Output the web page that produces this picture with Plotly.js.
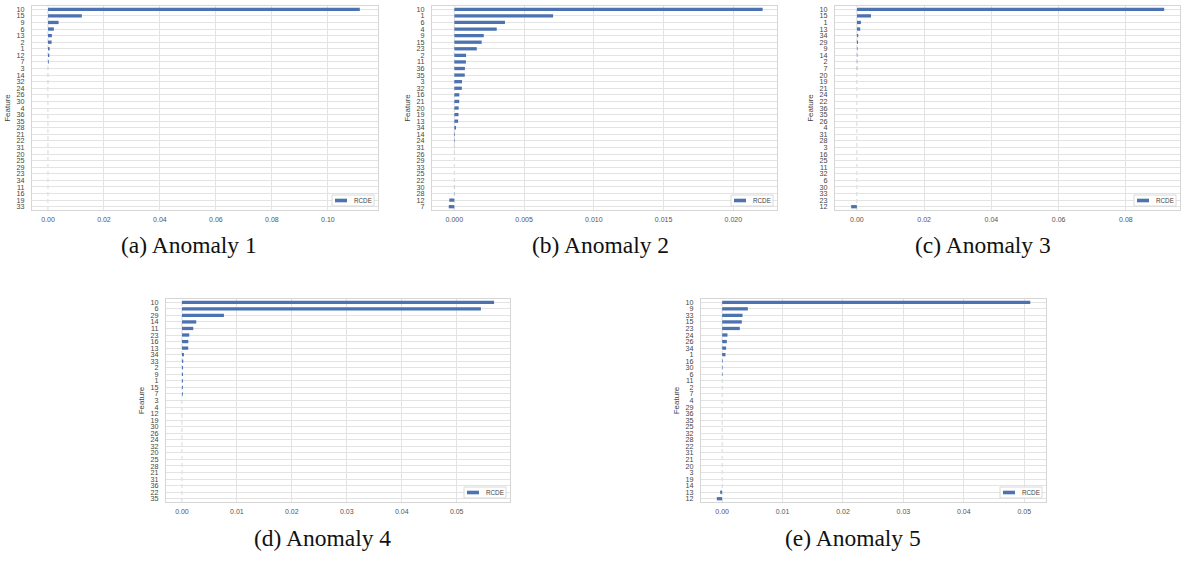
<!DOCTYPE html>
<html>
<head>
<meta charset="utf-8">
<script src="https://cdn.plot.ly/plotly-3.0.1.min.js"></script>
<style>html,body{margin:0;padding:0;background:#fff}#chart{width:1181px;height:561px}</style>
</head>
<body>
<div id="chart"></div>
<script>
// ---- data ----
const featuresA = ["10","15","9","6","13","2","1","12","7","3","14","32","24","26","30","4","36","35","28","21","22","31","20","25","29","23","34","11","16","19","33"];
const rcdeA = [0.1114,0.0121,0.0038,0.0021,0.0014,0.0013,0.0006,0.0005,0.0003,0.00004,0.00003,0.00003,0.00002,0.00002,0.00002,0.00001,0.00001,0.00001,0.00001,0.000005,0.000005,0.000003,0.000002,0.000001,0,0,0,0,-0.000001,-0.000002,-0.000003];

const featuresB = ["10","1","6","4","9","15","23","2","11","36","35","3","32","16","21","20","19","13","34","14","24","31","26","29","33","25","22","30","28","12","7"];
const rcdeB = [0.0221,0.00708,0.00363,0.00304,0.00211,0.00196,0.00161,0.00084,0.00083,0.00076,0.00075,0.00055,0.00054,0.00036,0.00035,0.00031,0.0003,0.00027,0.00012,0.00005,0.00004,0.00001,0.000005,0,0,0,-0.000005,-0.00001,-0.00002,-0.00036,-0.0004];

const featuresC = ["10","15","1","13","34","29","9","14","2","7","20","19","21","24","22","36","35","26","4","31","28","3","16","25","11","32","6","30","33","23","12"];
const rcdeC = [0.0914,0.0042,0.0012,0.0010,0.0004,0.00035,0.0002,0.00015,0.00012,0.0001,0.00002,0.00002,0.00001,0.00001,0.00001,0.000005,0.000005,0.000003,0.000002,0.000001,0,0,0,0,0,-0.000001,-0.000002,-0.000003,-0.000005,-0.00001,-0.0017];

const featuresD = ["10","6","29","14","11","23","16","13","34","33","2","9","1","15","7","3","4","12","19","30","26","24","32","20","25","28","21","31","36","22","35"];
const rcdeD = [0.0568,0.0544,0.00764,0.0026,0.00206,0.00133,0.00116,0.00114,0.00036,0.00024,0.0002,0.00019,0.00018,0.00017,0.00016,0.00001,0.000008,0.000005,0.000004,0.000003,0.000002,0.000001,0,0,0,0,0,-0.000001,-0.000002,-0.000005,-0.00001];

const featuresE = ["10","9","33","15","23","24","26","34","1","16","30","6","11","2","7","4","29","36","35","25","32","28","22","31","21","20","3","19","14","13","12"];
const rcdeE = [0.0510,0.00425,0.00337,0.00326,0.00292,0.00088,0.00077,0.00066,0.00055,0.0001,0.00009,0.00008,0.00001,0.000008,0.000006,0.000005,0.000003,0.000002,0.000001,0,0,0,0,0,0,-0.000001,-0.000002,-0.000004,-0.00001,-0.00033,-0.00088];

const seriesName = "RCDE";
const captions = ["(a) Anomaly 1","(b) Anomaly 2","(c) Anomaly 3","(d) Anomaly 4","(e) Anomaly 5"];
const xTickVals = [
  [0,0.02,0.04,0.06,0.08,0.10],
  [0,0.005,0.010,0.015,0.020],
  [0,0.02,0.04,0.06,0.08],
  [0,0.01,0.02,0.03,0.04,0.05],
  [0,0.01,0.02,0.03,0.04,0.05]
];
const xTickText = [
  ["0.00","0.02","0.04","0.06","0.08","0.10"],
  ["0.000","0.005","0.010","0.015","0.020"],
  ["0.00","0.02","0.04","0.06","0.08"],
  ["0.00","0.01","0.02","0.03","0.04","0.05"],
  ["0.00","0.01","0.02","0.03","0.04","0.05"]
];

// ---- layout geometry (pixels) ----
const W = 1181, H = 561;
const panels = [
  {feat: featuresA, vals: rcdeA, frame: [32, 378, 6, 210],   range: [-0.0057, 0.1179], cap: [189, 245]},
  {feat: featuresB, vals: rcdeB, frame: [432, 777, 6, 210],  range: [-0.0016, 0.02313], cap: [600, 245]},
  {feat: featuresC, vals: rcdeC, frame: [835, 1180, 6, 210], range: [-0.0065, 0.0961], cap: [983, 245]},
  {feat: featuresD, vals: rcdeD, frame: [166, 510, 299, 502], range: [-0.0029, 0.0597], cap: [322, 538]},
  {feat: featuresE, vals: rcdeE, frame: [701, 1046, 299, 502], range: [-0.0035, 0.0536], cap: [853, 538]}
];

const BLUE = "#4C72B0";
const GRID = "#e3e3e3";
const FRAME = "#d6d6d6";
const TICKC = "#444444";
const SANS = "Liberation Sans, Arial, sans-serif";

const data = [];
const layout = {
  width: W, height: H,
  margin: {l: 0, r: 0, t: 0, b: 0},
  paper_bgcolor: "#ffffff",
  plot_bgcolor: "#ffffff",
  showlegend: false,
  bargap: 0.5,
  font: {family: SANS, size: 7, color: TICKC},
  shapes: [],
  annotations: []
};

panels.forEach((p, i) => {
  const n = i === 0 ? "" : String(i + 1);
  const xa = "x" + n, ya = "y" + n;
  data.push({
    type: "bar", orientation: "h",
    x: p.vals, y: p.feat,
    xaxis: xa, yaxis: ya,
    name: seriesName,
    marker: {color: BLUE, line: {width: 0}},
    hoverinfo: "x+y"
  });
  const [l, r, t, b] = p.frame;
  const gridVals = xTickVals[i].filter(v => v !== 0);
  layout["xaxis" + n] = {
    domain: [l / W, r / W], anchor: ya,
    range: p.range, autorange: false,
    tickmode: "array", tickvals: xTickVals[i], ticktext: xTickText[i],
    showgrid: false,
    minor: {tickmode: "array", tickvals: gridVals, showgrid: true, gridcolor: GRID, gridwidth: 1, ticks: ""},
    zeroline: false,
    showline: true, linecolor: FRAME, linewidth: 1, mirror: true,
    ticks: "", ticklabelstandoff: 3,
    tickfont: {size: 7, color: "#555555", family: SANS}
  };
  layout["yaxis" + n] = {
    domain: [1 - b / H, 1 - t / H], anchor: xa,
    type: "category",
    categoryorder: "array", categoryarray: p.feat,
    tickmode: "array", tickvals: p.feat, ticktext: p.feat,
    range: [p.feat.length - 0.5, -0.5], autorange: false,
    showgrid: true, gridcolor: GRID, gridwidth: 1,
    zeroline: false,
    showline: true, linecolor: FRAME, linewidth: 1, mirror: true,
    ticks: "", ticklabelstandoff: 5,
    tickfont: {size: 7.2, color: TICKC, family: SANS},
    title: {text: "Feature", standoff: 4, font: {size: 8, color: TICKC, family: SANS}}
  };
  // dashed zero line (drawn under the bars)
  layout.shapes.push({
    type: "line", layer: "below",
    xref: xa, yref: ya + " domain",
    x0: 0, x1: 0, y0: 0, y1: 1,
    line: {color: "#d9d9d9", width: 1, dash: "4px,3px"}
  });
  // legend box (lower right)
  const bw = 42, bh = 11;
  const bx1 = r - 4, by1 = b - 4, bx0 = bx1 - bw, by0 = by1 - bh;
  layout.shapes.push({
    type: "rect", layer: "above", xref: "paper", yref: "paper",
    x0: bx0 / W, x1: bx1 / W, y0: 1 - by1 / H, y1: 1 - by0 / H,
    fillcolor: "rgba(255,255,255,0.85)", line: {color: "#dadada", width: 1}
  });
  const hy = (by0 + by1) / 2;
  layout.shapes.push({
    type: "rect", layer: "above", xref: "paper", yref: "paper",
    x0: (bx0 + 3) / W, x1: (bx0 + 15) / W, y0: 1 - (hy + 1.8) / H, y1: 1 - (hy - 1.8) / H,
    fillcolor: BLUE, line: {width: 0}
  });
  layout.annotations.push({
    xref: "paper", yref: "paper", x: (bx0 + 20) / W, y: 1 - hy / H,
    xanchor: "left", yanchor: "middle", showarrow: false,
    text: seriesName, font: {size: 6.3, color: "#444444", family: SANS}
  });
  // sub-figure caption
  layout.annotations.push({
    xref: "paper", yref: "paper", x: p.cap[0] / W, y: 1 - p.cap[1] / H,
    xanchor: "center", yanchor: "middle", showarrow: false,
    text: captions[i], font: {size: 23.5, color: "#111111", family: "Liberation Serif, Times New Roman, serif"}
  });
});

Plotly.newPlot("chart", data, layout, {staticPlot: true, displayModeBar: false});
</script>
</body>
</html>
